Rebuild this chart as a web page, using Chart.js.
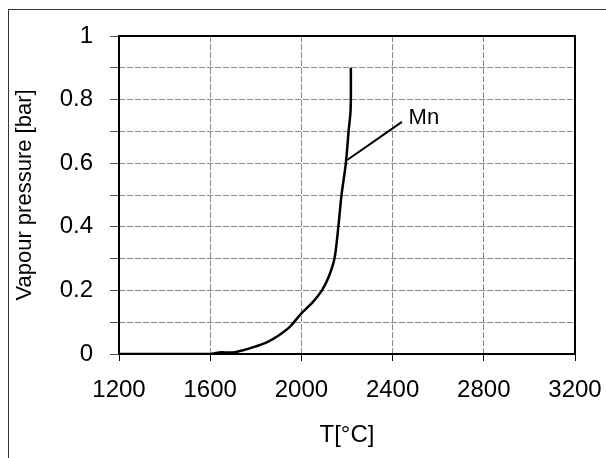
<!DOCTYPE html>
<html>
<head>
<meta charset="utf-8">
<script src="https://cdn.jsdelivr.net/npm/chart.js@4/dist/chart.umd.min.js"></script>
<style>
  html, body { margin: 0; padding: 0; background: #fff; }
  #wrap { width: 606px; height: 458px; }
</style>
</head>
<body>
<div id="wrap"><canvas id="c" width="606" height="458"></canvas></div>
<script>
// Data
const tempC = [1200, 1400, 1600, 1640, 1700, 1750, 1800, 1850, 1900, 1950, 2000, 2050, 2090, 2120, 2145, 2162, 2176, 2195, 2207, 2216, 2217];
const pressure = [0, 0, 0, 0.005, 0.005, 0.013, 0.024, 0.037, 0.058, 0.086, 0.128, 0.163, 0.2, 0.243, 0.3, 0.4, 0.5, 0.6, 0.7, 0.77, 0.9];
const leaderX = [2201, 2441];
const leaderY = [0.61, 0.73];
const seriesLabel = "Mn";
const labelPos = [2470, 0.742];
const xTicks = [1200, 1600, 2000, 2400, 2800, 3200];
const yTicks = [0, 0.2, 0.4, 0.6, 0.8, 1];
const xTitle = "T[°C]";
const yTitle = "Vapour pressure [bar]";

const FONT = "'Liberation Sans', Arial, sans-serif";

const framePlugin = {
  id: 'frame',
  beforeDraw(chart) {
    const ctx = chart.ctx;
    ctx.save();
    ctx.fillStyle = '#fff';
    ctx.fillRect(0, 0, chart.width, chart.height);
    ctx.strokeStyle = '#333';
    ctx.lineWidth = 1;
    ctx.beginPath();
    ctx.moveTo(8.5, chart.height);
    ctx.lineTo(8.5, 9.5);
    ctx.lineTo(chart.width, 9.5);
    ctx.stroke();
    ctx.restore();
  },
  afterDatasetsDraw(chart) {
    const ctx = chart.ctx;
    const a = chart.chartArea;
    ctx.save();
    ctx.strokeStyle = '#000';
    ctx.lineWidth = 2;
    ctx.strokeRect(a.left, a.top, a.right - a.left, a.bottom - a.top);
    // series label
    const xs = chart.scales.x, ys = chart.scales.y;
    ctx.fillStyle = '#000';
    ctx.font = "22px " + FONT;
    ctx.textAlign = 'left';
    ctx.textBaseline = 'middle';
    ctx.fillText(seriesLabel, xs.getPixelForValue(labelPos[0]), ys.getPixelForValue(labelPos[1]));
    ctx.restore();
  }
};

new Chart(document.getElementById('c'), {
  type: 'line',
  data: {
    datasets: [
      {
        data: tempC.map((t, i) => ({x: t, y: pressure[i]})),
        borderColor: '#000',
        borderWidth: 2.5,
        pointRadius: 0,
        tension: 0.3,
        fill: false
      },
      {
        data: leaderX.map((t, i) => ({x: t, y: leaderY[i]})),
        borderColor: '#000',
        borderWidth: 2,
        pointRadius: 0,
        tension: 0,
        fill: false
      }
    ]
  },
  options: {
    responsive: false,
    animation: false,
    devicePixelRatio: 1,
    layout: { padding: { left: 0, top: 36, right: 31, bottom: 0 } },
    plugins: { legend: { display: false }, tooltip: { enabled: false } },
    scales: {
      x: {
        type: 'linear',
        min: xTicks[0],
        max: xTicks[xTicks.length - 1],
        afterBuildTicks(scale) { scale.ticks = xTicks.map(v => ({value: v})); },
        afterFit(scale) { scale.height = 104; scale.paddingLeft = 0; scale.paddingRight = 0; },
        ticks: {
          color: '#000',
          font: { family: FONT, size: 24 },
          padding: 15,
          maxRotation: 0,
          autoSkip: false,
          callback: v => String(v)
        },
        grid: {
          color: '#8a8a8a',
          lineWidth: 1,
          tickLength: 7,
          tickColor: '#000',
          tickWidth: 1
        },
        border: { display: false, dash: [6, 2] },
        title: {
          display: true,
          text: xTitle,
          color: '#000',
          font: { family: FONT, size: 24 },
          padding: { top: 0, bottom: 8 }
        }
      },
      y: {
        type: 'linear',
        min: 0,
        max: 1,
        afterBuildTicks(scale) {
          const t = [];
          for (let i = 0; i <= 10; i++) t.push({value: i / 10});
          scale.ticks = t;
        },
        afterFit(scale) { scale.width = 119; scale.paddingTop = 0; scale.paddingBottom = 0; },
        ticks: {
          color: '#000',
          font: { family: FONT, size: 24 },
          padding: 17,
          autoSkip: false,
          callback: v => {
            const r = Math.round(v * 10) / 10;
            return yTicks.some(t => Math.abs(t - r) < 1e-9) ? String(r) : '';
          }
        },
        grid: {
          color: '#8a8a8a',
          lineWidth: 1,
          tickLength: 9,
          tickColor: '#555',
          tickWidth: 1
        },
        border: { display: false, dash: [6, 2] },
        title: {
          display: true,
          text: yTitle,
          color: '#000',
          font: { family: FONT, size: 22 },
          padding: { top: 12, bottom: 0 }
        }
      }
    }
  },
  plugins: [framePlugin]
});
</script>
</body>
</html>
